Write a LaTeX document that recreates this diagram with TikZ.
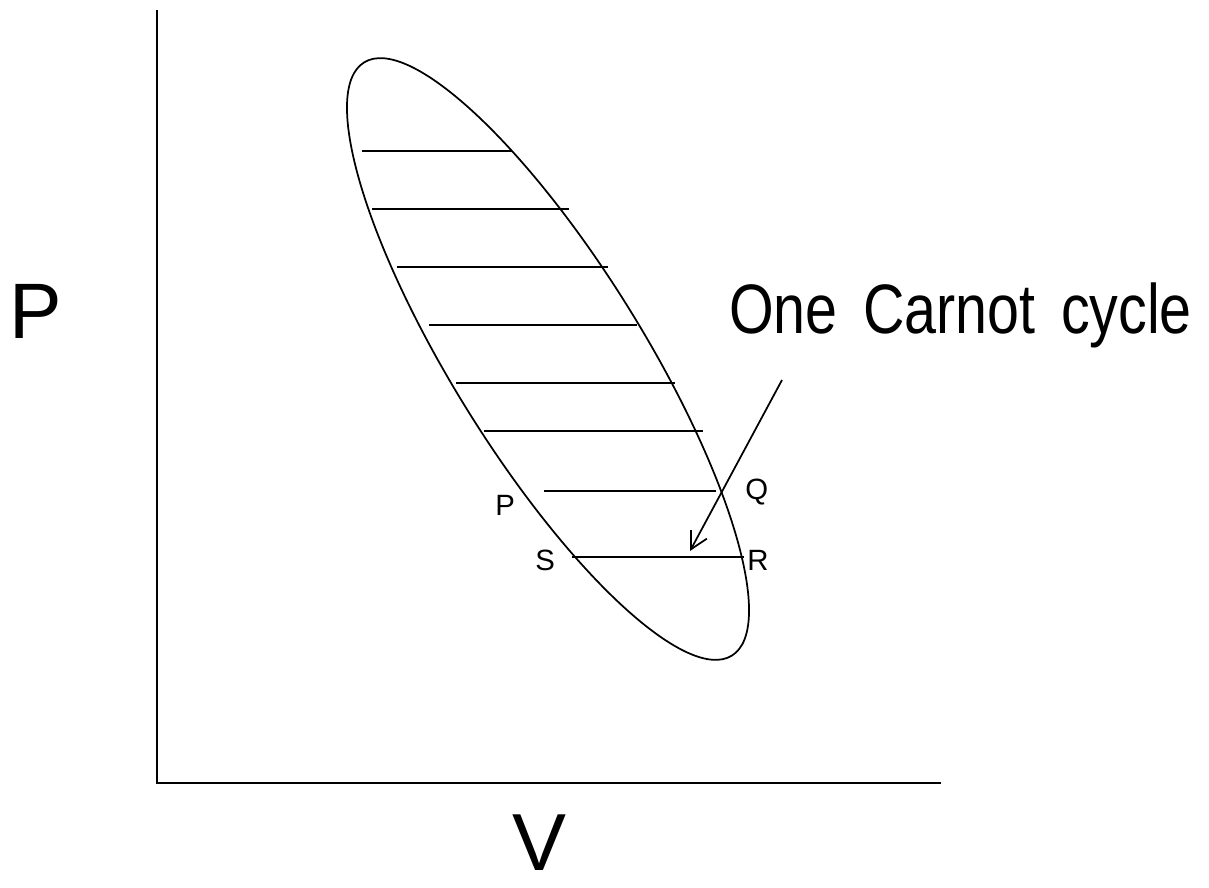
\documentclass[tikz,border=0pt]{standalone}
\usepackage{fontspec}
\usepackage{graphicx}
\setmainfont{Liberation Sans}
\newfontfamily\titlefont[WordSpace=1.6]{Liberation Sans}
\usetikzlibrary{arrows.meta}
\begin{document}
\begin{tikzpicture}[x=0.75pt,y=-0.75pt,
  ln/.style={line width=1.3pt, line cap=butt},
  axis/.style={line width=1.5pt},
  lbl/.style={inner sep=0pt, anchor=base west, font=\fontsize{22}{22}\selectfont}]
\useasboundingbox (0,0) rectangle (1209,888);
% axes
\coordinate (ytop) at (157,10);
\coordinate (origin) at (157,783);
\coordinate (xend) at (941,783);
\draw[axis] (ytop) -- (origin) -- (xend);
% ellipse
\draw[ln, rotate around={-58.2:(548,359)}] (548,359) ellipse [x radius=349, y radius=95.4];
% horizontal lines (Carnot cycles)
\foreach \yy/\xa/\xb in {151/362/512, 209/372/569, 267/397/608, 325/429/637, 383/456/675, 431/484/703, 491/544/716, 557/572/744}
  \draw[ln] (\xa,\yy) -- (\xb,\yy);
% labels
\node[lbl] (lp) at (495,515) {P};
\node[lbl] (lq) at (745,499) {Q};
\node[lbl] (ls) at (535,570) {S};
\node[lbl] (lr) at (747,570) {R};
% axis labels
\node[inner sep=0pt, anchor=base west, font=\fontsize{59}{59}\selectfont] (ylab) at (9,338) {P};
\node[inner sep=0pt, anchor=base west, font=\fontsize{60.7}{60.7}\selectfont] (xlab) at (512,870) {V};
% title
\node[inner sep=0pt, anchor=base west] (title) at (729,333) {\scalebox{0.82}[1]{\fontsize{52.5}{52.5}\titlefont One Carnot cycle}};
% arrow
\coordinate (arrS) at (782,380);
\coordinate (arrE) at (690,551);
\draw[ln, -{Straight Barb[length=12.75pt,width=13.5pt]}] (arrS) -- (arrE);
\end{tikzpicture}
\end{document}
